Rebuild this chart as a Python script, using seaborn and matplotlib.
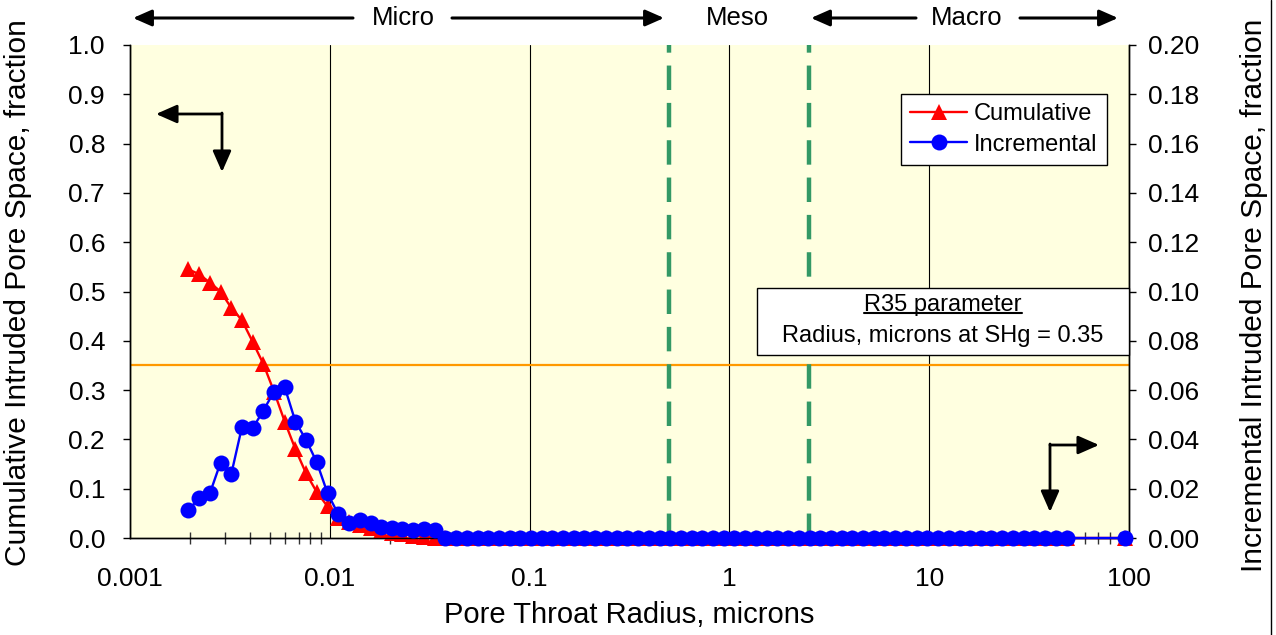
import matplotlib
matplotlib.use("Agg")
import matplotlib.pyplot as plt
from matplotlib.lines import Line2D
from matplotlib.patches import Rectangle
from matplotlib.ticker import FixedLocator, FixedFormatter, NullFormatter
import pandas as pd
import seaborn as sns

# Pore throat radius (microns) for each intrusion step
radius = [
    0.00196, 0.00222, 0.00251, 0.00284, 0.00321, 0.00363, 0.00411, 0.00465,
    0.00526, 0.00595, 0.00673, 0.00761, 0.00861, 0.00975, 0.0110, 0.0125,
    0.0141, 0.0160, 0.0181, 0.0204, 0.0231, 0.0262, 0.0296, 0.0335, 0.0379,
    0.0429, 0.0485, 0.0549, 0.0621, 0.0702, 0.0794, 0.0899, 0.102, 0.115,
    0.130, 0.147, 0.167, 0.188, 0.213, 0.241, 0.273, 0.309, 0.349, 0.395,
    0.447, 0.506, 0.572, 0.647, 0.732, 0.829, 0.938, 1.06, 1.20, 1.36,
    1.54, 1.74, 1.97, 2.22, 2.52, 2.85, 3.22, 3.64, 4.12, 4.66, 5.28,
    5.97, 6.75, 7.64, 8.65, 9.78, 11.1, 12.5, 14.2, 16.0, 18.1, 20.5,
    23.2, 26.3, 29.7, 33.6, 38.0, 43.0, 48.7, 95.0,
]

# Cumulative intruded pore space (fraction, left axis)
cumulative = [
    0.545, 0.535, 0.518, 0.500, 0.467, 0.442, 0.398, 0.353,
    0.297, 0.236, 0.180, 0.131, 0.093, 0.064, 0.040, 0.032,
    0.026, 0.020, 0.015, 0.011, 0.008, 0.005, 0.003, 0.001, 0.0,
    0.0, 0.0, 0.0, 0.0, 0.0, 0.0, 0.0, 0.0, 0.0, 0.0,
    0.0, 0.0, 0.0, 0.0, 0.0, 0.0, 0.0, 0.0, 0.0, 0.0,
    0.0, 0.0, 0.0, 0.0, 0.0, 0.0, 0.0, 0.0, 0.0, 0.0,
    0.0, 0.0, 0.0, 0.0, 0.0, 0.0, 0.0, 0.0, 0.0, 0.0,
    0.0, 0.0, 0.0, 0.0, 0.0, 0.0, 0.0, 0.0, 0.0, 0.0,
    0.0, 0.0, 0.0, 0.0, 0.0, 0.0, 0.0, 0.0, 0.0,
]

# Incremental intruded pore space (fraction, right axis)
incremental = [
    0.0114, 0.0161, 0.0181, 0.0306, 0.0258, 0.0449, 0.0445, 0.0517,
    0.0594, 0.0611, 0.0472, 0.0398, 0.0307, 0.0181, 0.0098, 0.0061,
    0.0075, 0.0062, 0.0046, 0.0039, 0.0035, 0.0032, 0.0035, 0.0032, 0.0,
    0.0, 0.0, 0.0, 0.0, 0.0, 0.0, 0.0, 0.0, 0.0, 0.0,
    0.0, 0.0, 0.0, 0.0, 0.0, 0.0, 0.0, 0.0, 0.0, 0.0,
    0.0, 0.0, 0.0, 0.0, 0.0, 0.0, 0.0, 0.0, 0.0, 0.0,
    0.0, 0.0, 0.0, 0.0, 0.0, 0.0, 0.0, 0.0, 0.0, 0.0,
    0.0, 0.0, 0.0, 0.0, 0.0, 0.0, 0.0, 0.0, 0.0, 0.0,
    0.0, 0.0, 0.0, 0.0, 0.0, 0.0, 0.0, 0.0, 0.0,
]

# Pore class boundaries (microns) and the R35 saturation level
meso_bounds = [0.5, 2.5]
r35_level = 0.35

x_ticks = [0.001, 0.01, 0.1, 1, 10, 100]
x_tick_labels = ["0.001", "0.01", "0.1", "1", "10", "100"]
left_ticks = [0.0, 0.1, 0.2, 0.3, 0.4, 0.5, 0.6, 0.7, 0.8, 0.9, 1.0]
right_ticks = [0.0, 0.02, 0.04, 0.06, 0.08, 0.10, 0.12, 0.14, 0.16, 0.18, 0.20]

sns.set_theme(style="white")
plt.rcParams["font.family"] = ["Liberation Sans", "DejaVu Sans"]
plt.rcParams["text.color"] = "black"
plt.rcParams["axes.labelcolor"] = "black"

df = pd.DataFrame({"radius": radius, "cumulative": cumulative,
                   "incremental": incremental})

W, H = 1276, 635
fig = plt.figure(figsize=(W / 100, H / 100), dpi=100)
fig.patch.set_facecolor("white")
ax = fig.add_axes([130 / W, 97 / H, 999 / W, 493 / H])
ax.set_facecolor("#FFFFE0")
ax.set_xscale("log")
ax2 = ax.twinx()

# reference lines
ax.axhline(r35_level, color="#FF9900", lw=1.6, zorder=1)
for xb in meso_bounds:
    ax.axvline(xb, color="#339966", lw=3.2, dashes=(5.5, 2.9), zorder=1.5)

sns.lineplot(data=df, x="radius", y="cumulative", ax=ax, color="#FF0000",
             marker="^", markersize=11, markeredgewidth=0, linewidth=1.7,
             label="Cumulative", legend=False, zorder=3, clip_on=False)
sns.lineplot(data=df, x="radius", y="incremental", ax=ax2, color="#0000FF",
             marker="o", markersize=11.5, markeredgewidth=0, linewidth=1.7,
             label="Incremental", legend=False, zorder=3, clip_on=False)

ax.set_xlim(0.001, 100)
ax.set_ylim(0, 1.0)
ax2.set_ylim(0, 0.2)

# x axis: decades with vertical grid lines, minor ticks crossing the axis
ax.xaxis.set_major_locator(FixedLocator(x_ticks))
ax.xaxis.set_major_formatter(FixedFormatter(x_tick_labels))
minor = [m * 10.0 ** e for e in range(-3, 2) for m in range(2, 10)]
ax.xaxis.set_minor_locator(FixedLocator(minor))
ax.xaxis.set_minor_formatter(NullFormatter())
ax.tick_params(axis="x", which="major", length=0, pad=21, labelsize=19,
               colors="black")
ax.tick_params(axis="x", which="minor", direction="inout", length=9,
               width=1, color="#333333", bottom=True)
ax.grid(True, axis="x", which="major", color="black", lw=0.8)
ax.grid(False, axis="y")
ax.set_axisbelow(True)

ax.yaxis.set_major_locator(FixedLocator(left_ticks))
ax.set_yticklabels([f"{v:.1f}" for v in left_ticks])
ax.tick_params(axis="y", which="major", direction="out", length=5, width=1,
               pad=13, labelsize=19, colors="black", left=True)
ax2.yaxis.set_major_locator(FixedLocator(right_ticks))
ax2.set_yticklabels([f"{v:.2f}" for v in right_ticks])
ax2.tick_params(axis="y", which="major", direction="out", length=5, width=1,
                pad=8.5, labelsize=19, colors="black", right=True)
ax2.grid(False)

for a in (ax, ax2):
    for side in ("left", "right", "bottom"):
        a.spines[side].set_visible(True)
        a.spines[side].set_color("black")
        a.spines[side].set_linewidth(1)
    a.spines["top"].set_visible(False)

ax.set_xlabel("Pore Throat Radius, microns", fontsize=21, color="black")
ax.xaxis.set_label_coords(0.5, (538 - 615) / 493)
ax.xaxis.label.set_va("center")
ax.set_ylabel("Cumulative Intruded Pore Space, fraction", fontsize=21.5,
              color="black")
ax.yaxis.set_label_coords((18 - 130) / 999, (538 - 293) / 493)
ax.yaxis.label.set_va("center")
ax2.set_ylabel("Incremental Intruded Pore Space, fraction", fontsize=21.5,
               color="black", rotation=90)
ax2.yaxis.set_label_coords((1254 - 130) / 999, (538 - 295) / 493)
ax2.yaxis.label.set_va("center")

# legend
h1, l1 = ax.get_legend_handles_labels()
h2, l2 = ax2.get_legend_handles_labels()
leg = ax2.legend(h1 + h2, l1 + l2, loc="upper left",
                 bbox_to_anchor=((901 - 130) / 999, (538 - 94) / 493),
                 borderaxespad=0, fontsize=17, frameon=True, fancybox=False,
                 framealpha=1, facecolor="white", edgecolor="black",
                 handlelength=2.4, handletextpad=0.3, borderpad=0.4,
                 labelspacing=0.35)
leg.get_frame().set_linewidth(1)
leg.set_zorder(10)
for txt in leg.get_texts():
    txt.set_color("black")

# R35 parameter note
x0, x1 = (757 - 130) / 999, 1.0
y0, y1 = (538 - 354.5) / 493, (538 - 287.5) / 493
ax2.add_patch(Rectangle((x0, y0), x1 - x0, y1 - y0, transform=ax2.transAxes,
                        facecolor="white", edgecolor="black", lw=1,
                        zorder=8, clip_on=False))
xc = (x0 + x1) / 2
t1 = ax2.text(xc, (538 - 305) / 493, "R35 parameter", transform=ax2.transAxes,
              ha="center", va="center", fontsize=17, color="black", zorder=9)
ax2.text(xc, (538 - 336) / 493, "Radius, microns at SHg = 0.35",
         transform=ax2.transAxes, ha="center", va="center", fontsize=17,
         color="black", zorder=9)
fig.canvas.draw()
bb = t1.get_window_extent()
fig.add_artist(Line2D([bb.x0, bb.x1], [bb.y0 + 3, bb.y0 + 3],
                      transform=None, color="black", lw=1.5))


def arrow(p0, p1, lw=2.2, scale=15):
    ax.annotate("", xy=(p1[0], H - p1[1]), xytext=(p0[0], H - p0[1]),
                xycoords="figure pixels", textcoords="figure pixels",
                arrowprops=dict(arrowstyle="-|>,head_length=0.75,head_width=0.33",
                                lw=lw, color="black", shrinkA=0, shrinkB=0,
                                mutation_scale=scale),
                annotation_clip=False)


# pore class labels along the top
ytop = 18
arrow((353, ytop), (133, ytop))
arrow((452, ytop), (664, ytop))
arrow((916, ytop), (811, ytop))
arrow((1020, ytop), (1118, ytop))
for label, xpos in (("Micro", 403), ("Meso", 737), ("Macro", 967)):
    fig.text(xpos / W, 1 - ytop / H, label, ha="center", va="center",
             fontsize=18.5, color="black")

# axis pointers
arrow((222, 114), (156, 114), lw=2, scale=17)
arrow((222, 113), (222, 172), lw=2, scale=17)
arrow((1050, 445), (1099, 445), lw=2, scale=17)
arrow((1050, 444), (1050, 512), lw=2, scale=17)

# outer frame edge on the right
fig.add_artist(Line2D([1271, 1271], [0, H], transform=None, color="black",
                      lw=1))

fig.savefig("out.png", dpi=100, facecolor="white")
